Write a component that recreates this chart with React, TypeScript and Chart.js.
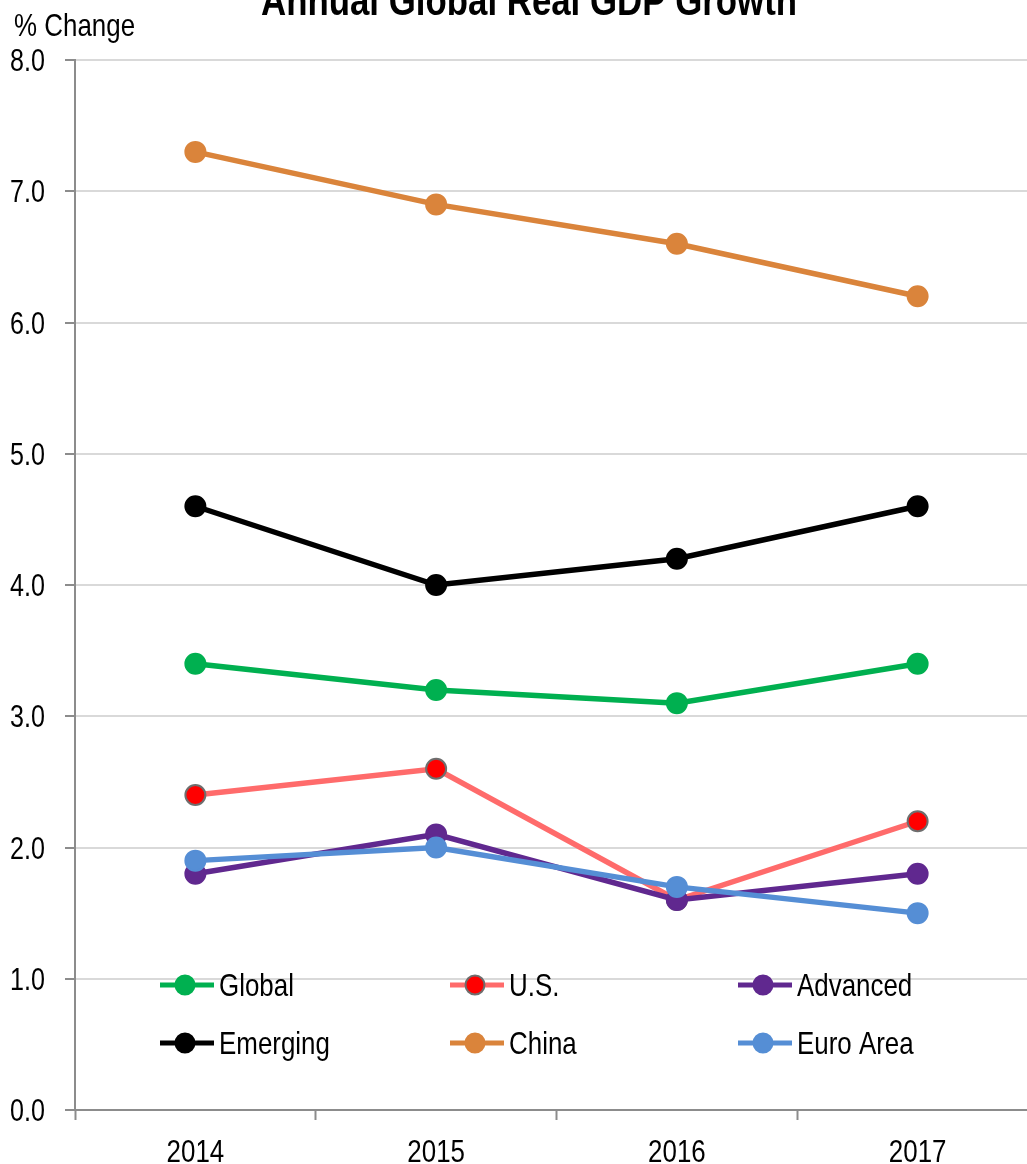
import React, { useEffect, useRef } from "react";
import { Chart, registerables } from "chart.js";

Chart.register(...registerables);

const categories = ["2014", "2015", "2016", "2017"];
const globalValues = [3.4, 3.2, 3.1, 3.4];
const usValues = [2.4, 2.6, 1.6, 2.2];
const advancedValues = [1.8, 2.1, 1.6, 1.8];
const emergingValues = [4.6, 4.0, 4.2, 4.6];
const chinaValues = [7.3, 6.9, 6.6, 6.2];
const euroValues = [1.9, 2.0, 1.7, 1.5];
const yTicks = [0, 1, 2, 3, 4, 5, 6, 7, 8];

const FONT = "'Liberation Sans', Arial, sans-serif";
const SQUEEZE = 0.81;

const series = [
  { label: "Global", data: globalValues, line: "#00B050", fill: "#00B050", border: "#00B050", order: 4 },
  { label: "U.S.", data: usValues, line: "#FF6B6B", fill: "#FF0000", border: "#6E6E6E", order: 3 },
  { label: "Advanced", data: advancedValues, line: "#60288F", fill: "#60288F", border: "#60288F", order: 2 },
  { label: "Emerging", data: emergingValues, line: "#000000", fill: "#000000", border: "#000000", order: 5 },
  { label: "China", data: chinaValues, line: "#DA843B", fill: "#DA843B", border: "#DA843B", order: 6 },
  { label: "Euro Area", data: euroValues, line: "#558ED5", fill: "#558ED5", border: "#558ED5", order: 1 },
];

function narrowText(ctx: CanvasRenderingContext2D, text: string, x: number, y: number, align: CanvasTextAlign, font: string) {
  ctx.save();
  ctx.font = font;
  ctx.textAlign = align;
  ctx.textBaseline = "alphabetic";
  ctx.fillStyle = "#000";
  ctx.translate(x, y);
  ctx.scale(SQUEEZE, 1);
  ctx.fillText(text, 0, 0);
  ctx.restore();
}

const decorPlugin = {
  id: "decor",
  afterDraw(chart: any) {
    const ctx: CanvasRenderingContext2D = chart.ctx;
    ctx.save();
    narrowText(ctx, "Annual Global Real GDP Growth", 529, 15, "center", `bold 43px ${FONT}`);
    narrowText(ctx, "% Change", 14, 36, "left", `32px ${FONT}`);

    // axis tick labels, positioned by the chart's scales
    const xs = chart.scales.x;
    const ys = chart.scales.y;
    ys.ticks.forEach((t: any) => {
      const py = ys.getPixelForValue(t.value);
      narrowText(ctx, Number(t.value).toFixed(1), 45, py + 11, "right", `31px ${FONT}`);
    });
    chart.data.labels.forEach((lab: string, i: number) => {
      const px = xs.getPixelForValue(i);
      narrowText(ctx, lab, px, 1162, "center", `32px ${FONT}`);
    });

    // legend
    const colX = [185, 475, 763];
    const rowY = [985, 1043];
    chart.data.datasets.forEach((ds: any, i: number) => {
      const cx = colX[i % 3];
      const cy = rowY[Math.floor(i / 3)];
      ctx.strokeStyle = ds.borderColor;
      ctx.lineWidth = 5;
      ctx.lineCap = "butt";
      ctx.beginPath();
      ctx.moveTo(cx - 25, cy);
      ctx.lineTo(cx + 29, cy);
      ctx.stroke();
      ctx.beginPath();
      ctx.arc(cx, cy, 9.5, 0, Math.PI * 2);
      ctx.fillStyle = ds.pointBackgroundColor;
      ctx.fill();
      ctx.lineWidth = 2;
      ctx.strokeStyle = ds.pointBorderColor;
      ctx.stroke();
      narrowText(ctx, ds.label, cx + 34, cy + 11, "left", `32px ${FONT}`);
    });
    ctx.restore();
  },
};

export default function App() {
  const ref = useRef<HTMLCanvasElement | null>(null);
  useEffect(() => {
    if (!ref.current) return;
    const chart = new Chart(ref.current, {
      type: "line",
      data: {
        labels: categories,
        datasets: series.map((s) => ({
          label: s.label,
          data: s.data,
          borderColor: s.line,
          backgroundColor: s.fill,
          pointBackgroundColor: s.fill,
          pointBorderColor: s.border,
          pointBorderWidth: 2,
          pointRadius: 10,
          borderWidth: 5.5,
          tension: 0,
          order: s.order,
        })),
      },
      options: {
        animation: false,
        responsive: false,
        maintainAspectRatio: false,
        devicePixelRatio: 1,
        layout: { padding: { top: 60, right: 3, left: 0, bottom: 0 } },
        plugins: { legend: { display: false }, title: { display: false }, tooltip: { enabled: false } },
        scales: {
          x: {
            type: "category",
            offset: true,
            grid: {
              offset: true,
              drawOnChartArea: false,
              drawTicks: true,
              tickLength: 10,
              tickColor: "#8C8C8C",
              tickWidth: 2,
            },
            border: { color: "#8C8C8C", width: 2 },
            ticks: { display: false },
            afterFit(scale: any) {
              scale.height = 54;
            },
          },
          y: {
            min: 0,
            max: 8,
            afterBuildTicks(scale: any) {
              scale.ticks = yTicks.map((v) => ({ value: v }));
            },
            grid: {
              color: "#D9D9D9",
              lineWidth: 2,
              tickLength: 10,
              tickColor: "#8C8C8C",
              tickWidth: 2,
            },
            border: { color: "#8C8C8C", width: 2 },
            ticks: { display: false },
            afterFit(scale: any) {
              scale.width = 75;
            },
          },
        },
      } as any,
      plugins: [decorPlugin],
    });
    return () => chart.destroy();
  }, []);
  return (
    <div style={{ position: "absolute", left: 0, top: 0, width: 1027, height: 1164, overflow: "hidden", background: "#fff" }}>
      <canvas ref={ref} width={1050} height={1164} style={{ display: "block", width: 1050, height: 1164 }} />
    </div>
  );
}
